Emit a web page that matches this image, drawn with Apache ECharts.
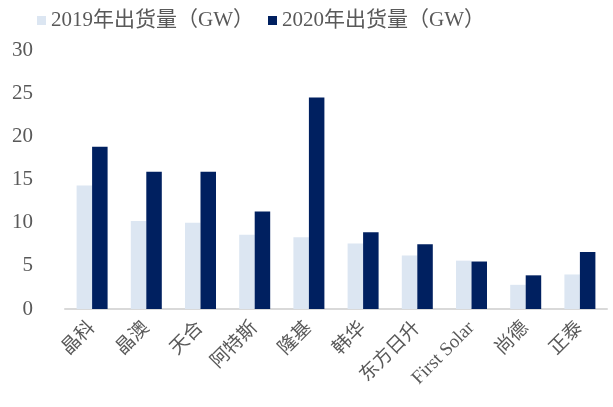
<!DOCTYPE html>
<html><head><meta charset="utf-8">
<script src="https://cdn.jsdelivr.net/npm/echarts@6/dist/echarts.min.js"></script>
<style>html,body{margin:0;padding:0;background:#fff}#c{width:613px;height:407px}</style>
</head><body><div id="c"></div>
<script>
const categories = ['晶科','晶澳','天合','阿特斯','隆基','韩华','东方日升','First Solar','尚德','正泰'];
const s2019 = [14.3, 10.2, 10.0, 8.6, 8.3, 7.6, 6.2, 5.6, 2.8, 4.0];
const s2020 = [18.8, 15.9, 15.9, 11.3, 24.5, 8.9, 7.5, 5.5, 3.9, 6.6];
const seriesNames = ['2019年出货量（GW）','2020年出货量（GW）'];
const yTicks = [0,5,10,15,20,25,30];
const font = "'Times New Roman','Liberation Serif','Noto Sans CJK SC',serif";
const chart = echarts.init(document.getElementById('c'));
chart.setOption({
  animation:false,
  textStyle:{fontFamily:font},
  legend:{top:5,left:32,itemWidth:9,itemHeight:9,itemGap:14,icon:'rect',
    textStyle:{fontSize:21,color:'#595959',fontFamily:font},
    data:seriesNames},
  grid:{left:65,right:6,top:50,bottom:98,containLabel:false},
  xAxis:{type:'category',data:categories,
    axisLine:{lineStyle:{color:'#d9d9d9',width:2}},
    axisTick:{show:false},
    axisLabel:{interval:0,rotate:45,fontSize:19,color:'#595959',fontFamily:font,margin:16}},
  yAxis:{type:'value',min:0,max:30,interval:5,
    splitLine:{show:false},axisLine:{show:false},axisTick:{show:false},
    axisLabel:{fontSize:21,color:'#595959',fontFamily:font,margin:32,
      formatter:v=>yTicks.includes(v)?String(v):''}},
  series:[
    {name:seriesNames[0],type:'bar',data:s2019,barWidth:15.5,barGap:'0%',itemStyle:{color:'#dce6f2'}},
    {name:seriesNames[1],type:'bar',data:s2020,barWidth:15.5,barGap:'0%',itemStyle:{color:'#002060'}}
  ]
});
</script></body></html>
